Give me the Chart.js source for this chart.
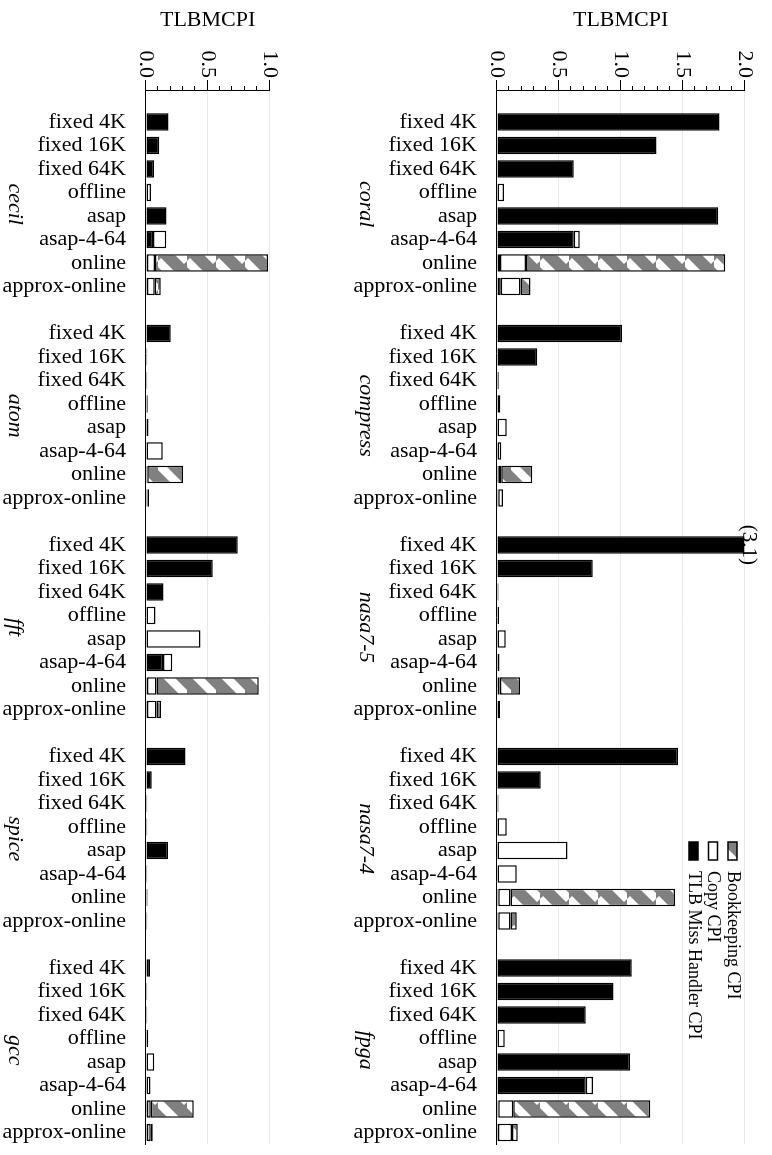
<!DOCTYPE html>
<html lang="en">
<head>
  <meta charset="UTF-8">
  <title>TLBMCPI</title>
  <script src="https://cdn.jsdelivr.net/npm/chart.js"></script>
  <style>
    body {
      margin: 0;
      background: #fff;
      overflow: hidden;
    }

    /* the figure is laid out as a normal column chart and turned a quarter turn */
    #sheet {
      position: absolute;
      left: 0;
      top: 0;
      width: 1155px;
      height: 772px;
      transform-origin: 0 0;
      transform: translate(772px, 0) rotate(90deg);
    }

    canvas {
      display: block;
    }
  </style>
</head>
<body>
  <div id="sheet">
    <canvas id="rightPanel" width="1155" height="440"></canvas>
    <canvas id="leftPanel" width="1155" height="332"></canvas>
  </div>

  <script>
    const configs = ['fixed 4K', 'fixed 16K', 'fixed 64K', 'offline', 'asap', 'asap-4-64', 'online', 'approx-online'];

    const rightBench = ['coral', 'compress', 'nasa7-5', 'nasa7-4', 'fpga'];
    const leftBench = ['cecil', 'atom', 'fft', 'spice', 'gcc'];

    const rightTicks = [0, 0.5, 1.0, 1.5, 2.0];
    const leftTicks = [0, 0.5, 1.0];

    // one row per benchmark, one value per config
    const tlbRight = [
      [1.80, 1.29, 0.62, 0, 1.79, 0.62, 0.025, 0.03],
      [1.01, 0.325, 0.014, 0, 0, 0, 0.01, 0.01],
      [3.1, 0.774, 0.012, 0, 0, 0.02, 0.02, 0.025],
      [1.463, 0.353, 0.012, 0, 0, 0, 0.01, 0.01],
      [1.089, 0.943, 0.717, 0, 1.075, 0.717, 0.01, 0.008]
    ];
    const copyRight = [
      [0, 0, 0, 0.057, 0, 0.05, 0.21, 0.16],
      [0, 0, 0, 0.027, 0.078, 0.035, 0.025, 0.038],
      [0, 0, 0, 0.016, 0.07, 0, 0.005, 0],
      [0, 0, 0, 0.078, 0.571, 0.159, 0.1, 0.1],
      [0, 0, 0, 0.062, 0, 0.059, 0.122, 0.114]
    ];
    const bookRight = [
      [0, 0, 0, 0, 0, 0, 1.61, 0.08],
      [0, 0, 0, 0, 0, 0, 0.25, 0],
      [0, 0, 0, 0, 0, 0, 0.16, 0],
      [0, 0, 0, 0, 0, 0, 1.329, 0.049],
      [0, 0, 0, 0, 0, 0, 1.107, 0.045]
    ];

    const tlbLeft = [
      [0.183, 0.108, 0.065, 0, 0.167, 0.057, 0.008, 0.008],
      [0.2, 0.01, 0.01, 0, 0.02, 0, 0, 0.012],
      [0.744, 0.542, 0.142, 0, 0, 0.137, 0.008, 0.008],
      [0.32, 0.046, 0.01, 0.01, 0.178, 0.01, 0.013, 0.01],
      [0.032, 0.01, 0.01, 0, 0, 0, 0.008, 0.008]
    ];
    const copyLeft = [
      [0, 0, 0, 0.04, 0, 0.107, 0.065, 0.062],
      [0, 0, 0, 0.014, 0, 0.135, 0.01, 0.012],
      [0, 0, 0, 0.078, 0.442, 0.076, 0.078, 0.078],
      [0, 0, 0, 0, 0, 0, 0, 0],
      [0, 0, 0, 0.018, 0.067, 0.037, 0.03, 0.03]
    ];
    const bookLeft = [
      [0, 0, 0, 0, 0, 0, 0.917, 0.049],
      [0, 0, 0, 0, 0, 0, 0.29, 0],
      [0, 0, 0, 0, 0, 0, 0.828, 0.035],
      [0, 0, 0, 0, 0, 0, 0, 0],
      [0, 0, 0, 0, 0, 0, 0.35, 0.016]
    ];

    const SLOT = configs.length + 1; // one empty slot between benchmarks
    const serif = "'Liberation Serif', 'Times New Roman', serif";

    Chart.defaults.font.family = serif;
    Chart.defaults.font.size = 22;
    Chart.defaults.color = '#000';

    // grey / white diagonal stripes for the bookkeeping part
    function makeStripes() {
      const T = 29;
      const tile = document.createElement('canvas');
      tile.width = tile.height = T;
      const g = tile.getContext('2d');
      g.fillStyle = '#808080';
      g.fillRect(0, 0, T, T);
      g.strokeStyle = '#fff';
      g.lineWidth = 8.5;
      for (const k of [-T, 0, T]) {
        g.beginPath();
        g.moveTo(k, T);
        g.lineTo(k + T, 0);
        g.stroke();
      }
      return g.createPattern(tile, 'repeat');
    }
    const stripes = makeStripes();

    const positions = [];
    rightBench.forEach((b, g) => configs.forEach((c, i) => positions.push(g * SLOT + i)));

    function series(rows) {
      const pts = [];
      rows.forEach((row, g) => row.forEach((v, i) => {
        if (v > 0) pts.push({ x: g * SLOT + i, y: v });
      }));
      return pts;
    }

    // minor ticks, benchmark names, off-scale values and the legend
    function extras(names, max, withLegend) {
      return {
        id: 'extras',
        afterDraw(chart) {
          const { ctx, chartArea: area, scales: { x, y } } = chart;
          ctx.save();

          ctx.strokeStyle = '#000';
          ctx.lineWidth = 1;
          for (let i = 1; i < max * 10; i++) {
            if (i % 5 === 0) continue;
            const py = Math.round(y.getPixelForValue(i / 10)) + 0.5;
            ctx.beginPath();
            ctx.moveTo(area.left - 4, py);
            ctx.lineTo(area.left, py);
            ctx.stroke();
          }

          ctx.fillStyle = '#000';
          ctx.font = `italic 22px ${serif}`;
          ctx.textAlign = 'center';
          ctx.textBaseline = 'alphabetic';
          names.forEach((n, g) => {
            ctx.fillText(n, x.getPixelForValue(g * SLOT + 3.5), area.bottom + 137);
          });

          ctx.font = `21px ${serif}`;
          chart.data.datasets.forEach(ds => ds.data.forEach(p => {
            if (p.y > max) ctx.fillText(`(${p.y})`, x.getPixelForValue(p.x), area.top + 1);
          }));

          if (withLegend) {
            const items = [
              ['Bookkeeping CPI', stripes],
              ['Copy CPI', '#fff'],
              ['TLB Miss Handler CPI', '#000']
            ];
            const u0 = area.left + 752;
            ctx.font = `18px ${serif}`;
            ctx.textAlign = 'left';
            ctx.textBaseline = 'middle';
            items.forEach(([label, fill], i) => {
              const cy = area.top + 11.8 + i * 19.5;
              ctx.fillStyle = fill;
              ctx.fillRect(u0, cy - 4.5, 18, 9);
              ctx.lineWidth = 1.5;
              ctx.strokeRect(u0, cy - 4.5, 18, 9);
              ctx.fillStyle = '#000';
              ctx.fillText(label, u0 + 29, cy);
            });
          }
          ctx.restore();
        }
      };
    }

    function drawPanel(id, names, ticks, tlb, copy, book, topPad, axisHeight, withLegend) {
      const max = ticks[ticks.length - 1];
      const barStyle = {
        borderColor: '#000',
        borderWidth: 1.5,
        borderSkipped: false,
        categoryPercentage: 1,
        barPercentage: 0.745
      };

      new Chart(document.getElementById(id), {
        type: 'bar',
        data: {
          datasets: [
            { label: 'TLB Miss Handler CPI', data: series(tlb), backgroundColor: '#000', ...barStyle },
            { label: 'Copy CPI', data: series(copy), backgroundColor: '#fff', ...barStyle },
            { label: 'Bookkeeping CPI', data: series(book), backgroundColor: stripes, ...barStyle }
          ]
        },
        options: {
          responsive: false,
          animation: false,
          layout: { padding: { top: topPad, right: 10.75, bottom: 0, left: 0 } },
          plugins: {
            legend: { display: false },
            tooltip: { enabled: false }
          },
          scales: {
            x: {
              type: 'linear',
              stacked: true,
              offset: false,
              min: -1.36,
              max: 43.5,
              afterBuildTicks: s => { s.ticks = positions.map(value => ({ value })); },
              afterFit: s => { s.height = axisHeight; s.paddingLeft = 0; s.paddingRight = 0; },
              border: { color: '#000', width: 1 },
              grid: { display: false, drawTicks: false, offset: false },
              ticks: {
                autoSkip: false,
                minRotation: 90,
                maxRotation: 90,
                padding: 20,
                callback: v => configs[v % SLOT]
              }
            },
            y: {
              stacked: true,
              min: 0,
              max: max,
              afterBuildTicks: s => { s.ticks = ticks.map(value => ({ value })); },
              afterFit: s => { s.width = 90; s.paddingTop = 0; s.paddingBottom = 0; },
              border: { color: '#000', width: 1 },
              grid: {
                color: c => (c.tick && c.tick.value === 0 ? 'rgba(0,0,0,0)' : '#e8e8e8'),
                tickColor: '#000',
                tickLength: 10
              },
              ticks: { padding: 2, callback: v => v.toFixed(1) },
              title: { display: true, text: 'TLBMCPI', padding: { top: 7, bottom: 0 } }
            }
          }
        },
        plugins: [extras(names, max, withLegend)]
      });
    }

    drawPanel('rightPanel', rightBench, rightTicks, tlbRight, copyRight, bookRight, 27.7, 165, true);
    drawPanel('leftPanel', leftBench, leftTicks, tlbLeft, copyLeft, bookLeft, 62.7, 146, false);
  </script>
</body>
</html>
